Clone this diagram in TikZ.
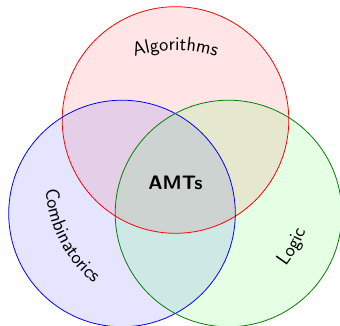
\documentclass[tikz,border=0pt]{standalone}
\usetikzlibrary{decorations.text}
\newcommand{\labfont}{\sffamily\fontsize{19.5}{23}\selectfont}
\begin{document}
\begin{tikzpicture}[x=1pt,y=1pt,
  venn/.style={line width=0.8pt},
  curvetext/.style={decorate, decoration={text along path, text align=center, text={#1}}}]
\useasboundingbox (0,-326) rectangle (340,0);
\coordinate (cr) at (175.5,-120);
\coordinate (cb) at (122,-213.5);
\coordinate (cg) at (228.5,-213.5);
\coordinate (cc) at (175.5,-182.3);
\fill[red, fill opacity=0.1] (cr) circle (113.3);
\fill[blue, fill opacity=0.1] (cb) circle (113.3);
\fill[green, fill opacity=0.1] (cg) circle (113.3);
\draw[venn, red] (cr) circle (113.3);
\draw[venn, blue] (cb) circle (113.3);
\draw[venn, green!50!black] (cg) circle (113.3);
\path[curvetext={|\labfont|Algorithms}] ([shift={(112:132)}]cc) arc (112:68:132);
\path[curvetext={|\labfont|Combinatorics}] ([shift={(181:130)}]cc) arc (181:233:130);
\path[curvetext={|\labfont|Logic}] ([shift={(-45:139)}]cc) arc (-45:-13:139);
\node[font=\labfont\bfseries] (amts) at (175.5,-183) {AMTs};
\end{tikzpicture}
\end{document}
